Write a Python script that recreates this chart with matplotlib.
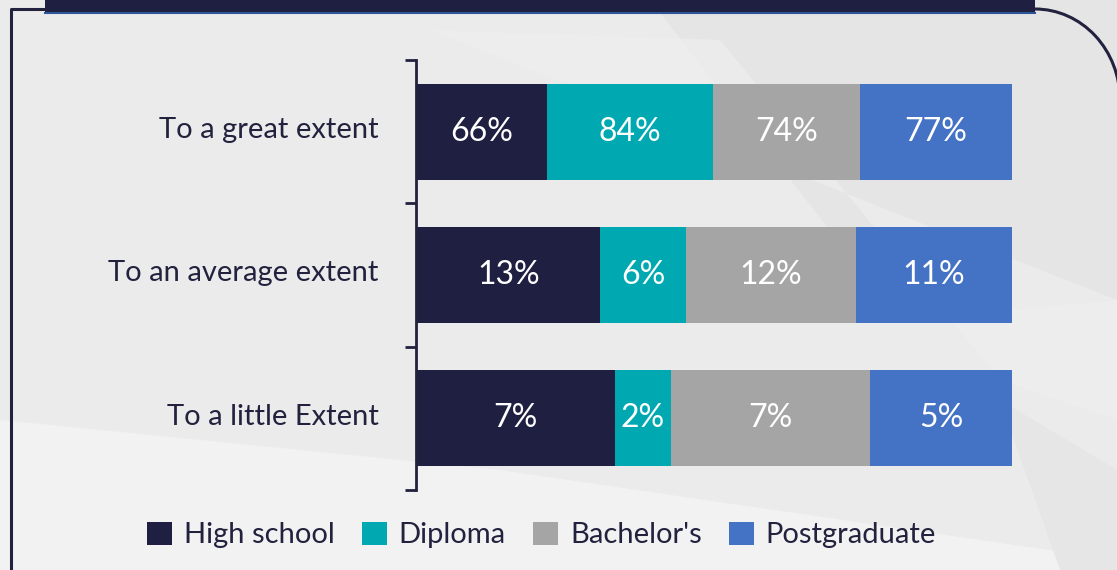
import numpy as np
import matplotlib.pyplot as plt
from matplotlib.patches import Polygon, Rectangle, Arc

categories = ["To a great extent", "To an average extent", "To a little Extent"]
series = ["High school", "Diploma", "Bachelor's", "Postgraduate"]
values = {
    "High school": [66, 13, 7],
    "Diploma": [84, 6, 2],
    "Bachelor's": [74, 12, 7],
    "Postgraduate": [77, 11, 5],
}
colors = ["#1f1f42", "#00a9b1", "#a5a5a5", "#4472c4"]
navy = "#22223f"

plt.rcParams['font.family'] = ['Lato', 'DejaVu Sans']

fig = plt.figure(figsize=(11.17, 5.7), dpi=100)
fig.patch.set_facecolor("#ebebeb")

# background decoration (figure pixel coords)
bg = fig.add_axes([0, 0, 1, 1])
bg.set_xlim(0, 1117)
bg.set_ylim(570, 0)
bg.axis("off")
bg.add_patch(Polygon([(0, 420), (0, 570), (1117, 570), (1117, 560), (500, 470), (200, 440)],
                     closed=True, fc="#f2f2f2", ec="none"))
bg.add_patch(Polygon([(650, 0), (1117, 0), (1117, 300), (900, 320)], closed=True, fc="#e5e5e5", ec="none"))
bg.add_patch(Polygon([(430, 30), (720, 40), (1000, 380), (1117, 420), (1117, 300)],
                     closed=True, fc="#eeeeee", ec="none", alpha=0.7))
bg.add_patch(Polygon([(1000, 400), (1117, 470), (1117, 570), (1060, 570)], closed=True, fc="#e6e6e6", ec="none"))
# frame
bg.plot([11, 11, 45], [570, 9, 9], color=navy, lw=2.2)
bg.add_patch(Rectangle((45, -5), 990, 18, fc="#1f1f42", ec="none"))
bg.plot([45, 1035], [13, 13], color="#2e5597", lw=1.5)
bg.add_patch(Arc((1035, 100), 170, 182, theta1=270, theta2=360, color=navy, lw=2.2))

ax = fig.add_axes([416 / 1117, 1 - 490 / 570, 596 / 1117, 430 / 570])
ax.set_facecolor("none")

data = np.array([values[s] for s in series], dtype=float)
shares = data / data.sum(axis=0)
y = np.arange(len(categories))
left = np.zeros(len(categories))
for i, s in enumerate(series):
    ax.barh(y, shares[i], left=left, height=0.67, color=colors[i], label=s)
    for j in range(len(categories)):
        ax.text(left[j] + shares[i][j] / 2, y[j], f"{int(data[i][j])}%",
                ha="center", va="center", color="white", fontsize=23)
    left += shares[i]

ax.set_xlim(0, 1)
ax.set_ylim(2.5, -0.5)
ax.set_yticks(y - 0.03)
ax.set_yticklabels(categories, fontsize=21, color=navy)
ax.tick_params(axis="y", which="major", length=0, pad=27)
ax.set_yticks([-0.5, 0.5, 1.5, 2.5], minor=True)
ax.tick_params(axis="y", which="minor", length=8, width=2, color=navy)
ax.set_xticks([])
for sp in ["top", "right", "bottom"]:
    ax.spines[sp].set_visible(False)
ax.spines["left"].set_color(navy)
ax.spines["left"].set_linewidth(2)

fig.legend(loc="center", bbox_to_anchor=(0.485, 1 - 535 / 570), ncol=4, frameon=False,
           fontsize=21, handlelength=0.85, handleheight=0.85, handletextpad=0.4,
           columnspacing=0.95, labelcolor=navy)

fig.savefig("out.png", dpi=100, facecolor=fig.get_facecolor())
